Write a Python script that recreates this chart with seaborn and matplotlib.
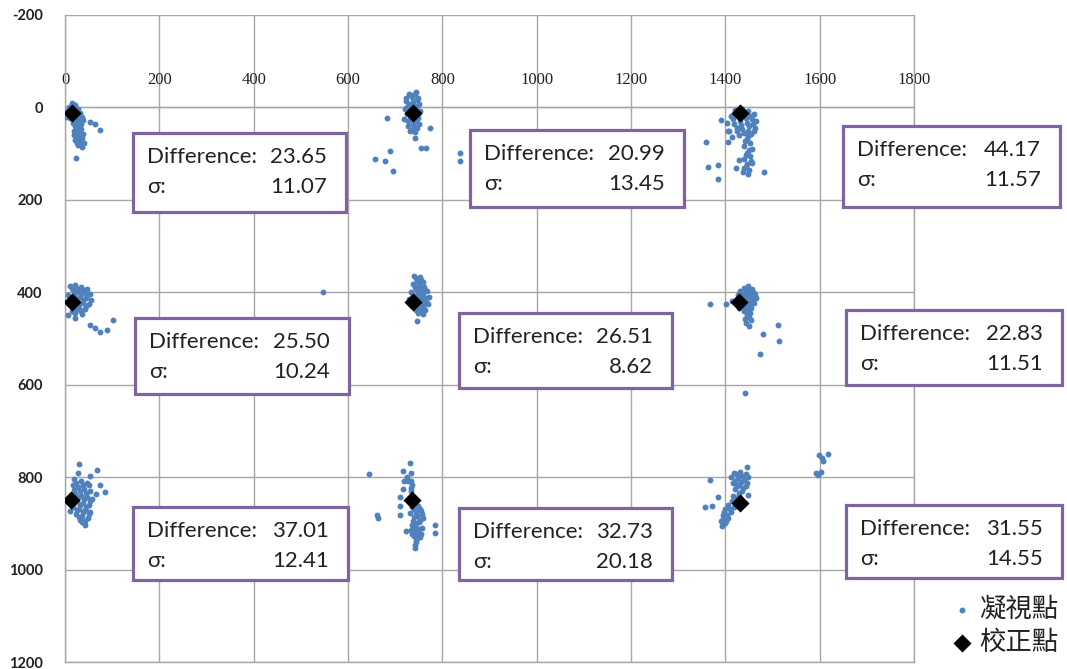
import matplotlib
matplotlib.use("Agg")
import matplotlib.pyplot as plt
from matplotlib.patches import Rectangle
import seaborn as sns
import pandas as pd

# gaze points per calibration target
gaze_top_left = [(14, -10), (22, -6), (8, 0), (18, 2), (28, 4), (4, 8), (12, 6), (24, 10), (32, 12),
                 (16, 16), (26, 18), (36, 20), (2, 20), (10, 22), (20, 26), (30, 30), (38, 28), (18, 34),
                 (28, 38), (24, 44), (34, 46), (20, 50), (30, 54), (38, 58), (26, 62), (36, 66), (22, 70),
                 (32, 74), (40, 78), (28, 82), (36, 86), (53, 32), (64, 35), (74, 48), (23, 110),
                 (12, -2), (20, 8), (6, 14), (14, 12), (22, 20), (30, 22), (16, 28), (26, 32), (34, 36),
                 (22, 40), (30, 48), (26, 56), (34, 60), (30, 68), (26, 76), (34, 80), (20, 60)]
gaze_top_mid = [(730, -30), (742, -28), (736, -22), (748, -20), (724, -14), (738, -12), (750, -8),
                (728, -4), (744, 0), (720, 4), (734, 6), (752, 8), (726, 14), (740, 18), (748, 22),
                (718, 24), (732, 26), (744, 30), (738, 36), (728, 40), (746, 44), (736, 48), (742, 54),
                (682, 23), (773, 45), (741, 66), (755, 88), (766, 88), (688, 95), (658, 112), (679, 117),
                (695, 138), (837, 99), (838, 117),
                (734, -26), (746, -16), (732, -8), (740, -4), (724, 2), (748, 14), (736, 20), (728, 30),
                (740, 42), (732, 52), (750, 36), (722, -20), (744, -34)]
gaze_top_right = [(1420, 6), (1436, 4), (1448, 8), (1460, 14), (1412, 18), (1428, 20), (1444, 22),
                  (1456, 26), (1466, 30), (1404, 34), (1418, 36), (1434, 38), (1450, 40), (1462, 44),
                  (1408, 50), (1424, 52), (1440, 56), (1454, 58), (1414, 64), (1446, 68), (1452, 76),
                  (1440, 84), (1456, 90), (1446, 98), (1452, 106), (1440, 112), (1456, 120), (1444, 128),
                  (1450, 136), (1438, 140), (1390, 28), (1358, 75), (1406, 75), (1364, 129), (1385, 125),
                  (1385, 154), (1481, 140), (1429, 114), (1422, 132), (1447, 143), (1406, 50),
                  (1426, 10), (1440, 14), (1452, 18), (1416, 26), (1432, 30), (1446, 34), (1458, 36),
                  (1424, 44), (1436, 46), (1448, 50), (1460, 52), (1430, 60), (1448, 62), (1442, 72),
                  (1450, 92), (1444, 104), (1454, 116), (1446, 122), (1440, 132)]
gaze_mid_left = [(10, 386), (22, 384), (34, 388), (46, 392), (16, 396), (28, 398), (40, 400), (52, 404),
                 (6, 406), (20, 408), (32, 410), (44, 412), (56, 416), (26, 420), (38, 424), (50, 426),
                 (12, 430), (30, 434), (42, 436), (22, 444), (36, 446), (6, 450), (21, 456), (53, 470),
                 (64, 478), (74, 486), (89, 482), (102, 460), (547, 400),
                 (14, 390), (26, 392), (38, 394), (22, 402), (34, 404), (46, 406), (14, 412), (26, 414),
                 (38, 416), (18, 424), (30, 426), (44, 430), (24, 438), (34, 440), (14, 440)]
gaze_mid_mid = [(740, 365), (752, 368), (746, 375), (758, 378), (738, 382), (750, 385), (762, 388),
                (744, 392), (756, 396), (768, 398), (734, 400), (748, 404), (760, 406), (772, 410),
                (742, 412), (754, 416), (766, 418), (730, 414), (746, 424), (758, 428), (770, 426),
                (740, 432), (752, 436), (764, 438), (748, 444), (760, 446), (747, 462),
                (744, 370), (754, 374), (742, 388), (752, 392), (764, 394), (738, 406), (752, 410),
                (764, 412), (742, 420), (754, 422), (736, 426), (748, 430), (760, 432), (744, 438),
                (756, 440)]
gaze_mid_right = [(1449, 387), (1440, 390), (1456, 392), (1432, 398), (1446, 400), (1460, 402),
                  (1426, 406), (1440, 408), (1454, 410), (1466, 412), (1436, 418), (1448, 420),
                  (1460, 424), (1442, 430), (1454, 434), (1440, 440), (1452, 444), (1446, 452),
                  (1454, 460), (1444, 466), (1450, 474), (1367, 425), (1402, 425), (1415, 418),
                  (1429, 435), (1511, 470), (1479, 491), (1513, 505), (1473, 534), (1442, 618),
                  (1444, 394), (1452, 398), (1436, 404), (1450, 404), (1462, 406), (1444, 412),
                  (1430, 414), (1456, 416), (1442, 424), (1452, 428), (1436, 432), (1448, 436),
                  (1446, 446), (1450, 454), (1442, 458)]
gaze_bot_left = [(30, 772), (27, 791), (67, 784), (53, 797), (74, 816), (85, 833), (65, 836), (11, 874),
                 (43, 903), (20, 804), (34, 808), (46, 812), (16, 818), (28, 822), (40, 826), (52, 830),
                 (22, 836), (34, 840), (46, 844), (58, 848), (26, 852), (38, 856), (50, 860), (18, 864),
                 (30, 868), (42, 872), (54, 876), (24, 880), (36, 884), (48, 888), (32, 892),
                 (24, 812), (38, 816), (50, 818), (20, 828), (32, 830), (44, 834), (28, 844), (40, 848),
                 (52, 852), (20, 856), (32, 860), (44, 864), (26, 872), (38, 876), (50, 880), (30, 886),
                 (42, 894), (36, 898)]
gaze_bot_mid = [(645, 793), (732, 770), (716, 786), (733, 791), (719, 808), (727, 808), (733, 808),
                (716, 825), (733, 823), (734, 830), (711, 844), (711, 863), (711, 881), (662, 881),
                (664, 888), (784, 903), (784, 921), (723, 916), (741, 953), (745, 935), (736, 858),
                (748, 862), (740, 870), (754, 874), (732, 878), (746, 884), (758, 888), (738, 894),
                (750, 898), (742, 906), (756, 910), (734, 914), (748, 920), (740, 928), (752, 930),
                (744, 940),
                (744, 856), (752, 868), (736, 864), (744, 876), (756, 880), (740, 886), (752, 892),
                (744, 900), (736, 904), (750, 912), (742, 916), (754, 922), (736, 922), (746, 932),
                (742, 946), (726, 800), (736, 816)]
gaze_bot_right = [(1445, 778), (1418, 790), (1432, 788), (1444, 794), (1412, 800), (1426, 802),
                  (1440, 806), (1416, 812), (1430, 816), (1444, 820), (1420, 826), (1436, 830),
                  (1447, 838), (1367, 806), (1385, 842), (1357, 865), (1372, 863), (1422, 845),
                  (1414, 852), (1406, 860), (1418, 864), (1400, 870), (1412, 876), (1394, 882),
                  (1406, 888), (1390, 894), (1400, 900), (1392, 906),
                  (1424, 794), (1436, 798), (1448, 800), (1420, 808), (1434, 810), (1446, 812),
                  (1424, 820), (1438, 824), (1428, 834), (1416, 840), (1430, 840), (1410, 868),
                  (1398, 876), (1404, 882), (1396, 890), (1402, 894), (1394, 898)]
gaze_far_right = [(1598, 752), (1605, 759), (1617, 750), (1608, 766), (1592, 791), (1603, 789), (1596, 795)]

calib_x = [15, 738, 1432, 15, 738, 1430, 12, 735, 1431]
calib_y = [12, 12, 12, 420, 420, 420, 849, 850, 857]

differences = [23.65, 20.99, 44.17, 25.50, 26.51, 22.83, 37.01, 32.73, 31.55]
sigmas = [11.07, 13.45, 11.57, 10.24, 8.62, 11.51, 12.41, 20.18, 14.55]

x_ticks = [0, 200, 400, 600, 800, 1000, 1200, 1400, 1600, 1800]
y_ticks = [-200, 0, 200, 400, 600, 800, 1000, 1200]

# box rectangles in pixels (left, top, right, bottom)
box_px = [(133, 133, 346, 212), (470, 130, 684, 207), (843, 126, 1060, 207),
          (135, 318, 349, 394), (459, 313, 672, 388), (846, 310, 1062, 385),
          (133, 507, 348, 580), (459, 508, 672, 580), (846, 505, 1062, 578)]

W, H = 1067, 669
BLUE = "#4F81BD"
PURPLE = "#8064A2"
GRID = "#A6A6A6"

sns.set_theme(style="white")
plt.rcParams["font.family"] = ["Lato", "Noto Sans CJK TC", "DejaVu Sans"]
plt.rcParams["axes.unicode_minus"] = False

all_gaze = (gaze_top_left + gaze_top_mid + gaze_top_right + gaze_mid_left + gaze_mid_mid
            + gaze_mid_right + gaze_bot_left + gaze_bot_mid + gaze_bot_right + gaze_far_right)
gaze_df = pd.DataFrame(all_gaze, columns=["x", "y"])
calib_df = pd.DataFrame({"x": calib_x, "y": calib_y})

fig = plt.figure(figsize=(W / 100, H / 100), dpi=100)
ax = fig.add_axes([65 / W, 1 - 662 / H, (914 - 65) / W, (662 - 15) / H])

sns.scatterplot(data=gaze_df, x="x", y="y", color=BLUE, s=18, linewidth=0, ax=ax, label="凝視點", zorder=3)
sns.scatterplot(data=calib_df, x="x", y="y", color="black", marker="D", s=85, linewidth=0, ax=ax,
                label="校正點", zorder=4)

ax.set_xlim(0, 1800)
ax.set_ylim(1200, -200)
ax.set_xticks(x_ticks)
ax.set_yticks(y_ticks)
ax.set_xlabel("")
ax.set_ylabel("")
ax.grid(True, color=GRID, linewidth=1.0)
ax.set_axisbelow(True)

# x axis crosses at y = 0, labels above it
ax.xaxis.tick_top()
ax.spines["top"].set_position(("data", 0))
for side in ["left", "right", "bottom", "top"]:
    ax.spines[side].set_color(GRID)
    ax.spines[side].set_linewidth(1.0)
ax.tick_params(axis="x", length=0, pad=14, labelsize=12, labelcolor="#222222")
ax.tick_params(axis="y", length=0, pad=16, labelsize=10.5, labelcolor="#222222")
for lab in ax.get_xticklabels():
    lab.set_fontfamily("Liberation Serif")
for lab in ax.get_yticklabels():
    lab.set_fontweight("bold")

handles, labels = ax.get_legend_handles_labels()
if ax.get_legend() is not None:
    ax.get_legend().remove()
leg = fig.legend(handles, labels, loc="center left", bbox_to_anchor=(945 / W, 1 - 626 / H),
                 frameon=False, fontsize=19, handlelength=0.5, handletextpad=0.4, labelspacing=0.25,
                 borderaxespad=0)
for t in leg.get_texts():
    t.set_fontfamily(["Noto Sans CJK TC", "DejaVu Sans"])
    t.set_color("#222222")

# annotation boxes with the difference and sigma values
for (x0, y0, x1, y1), d, s in zip(box_px, differences, sigmas):
    fig.add_artist(Rectangle((x0 / W, 1 - y1 / H), (x1 - x0) / W, (y1 - y0) / H,
                             transform=fig.transFigure, facecolor="white",
                             edgecolor=PURPLE, linewidth=2.3, zorder=5))
    r1 = 1 - (y0 + 24) / H
    r2 = 1 - (y0 + 54) / H
    fig.text((x0 + 14) / W, r1, "Difference:", fontsize=16, va="center", ha="left", color="#222222", zorder=6)
    fig.text((x1 - 19) / W, r1, f"{d:.2f}", fontsize=16, va="center", ha="right", color="#222222", zorder=6)
    fig.text((x0 + 14) / W, r2, "σ:", fontsize=16, va="center", ha="left", color="#222222", zorder=6)
    fig.text((x1 - 19) / W, r2, f"{s:.2f}", fontsize=16, va="center", ha="right", color="#222222", zorder=6)

fig.savefig("out.png", dpi=100)
